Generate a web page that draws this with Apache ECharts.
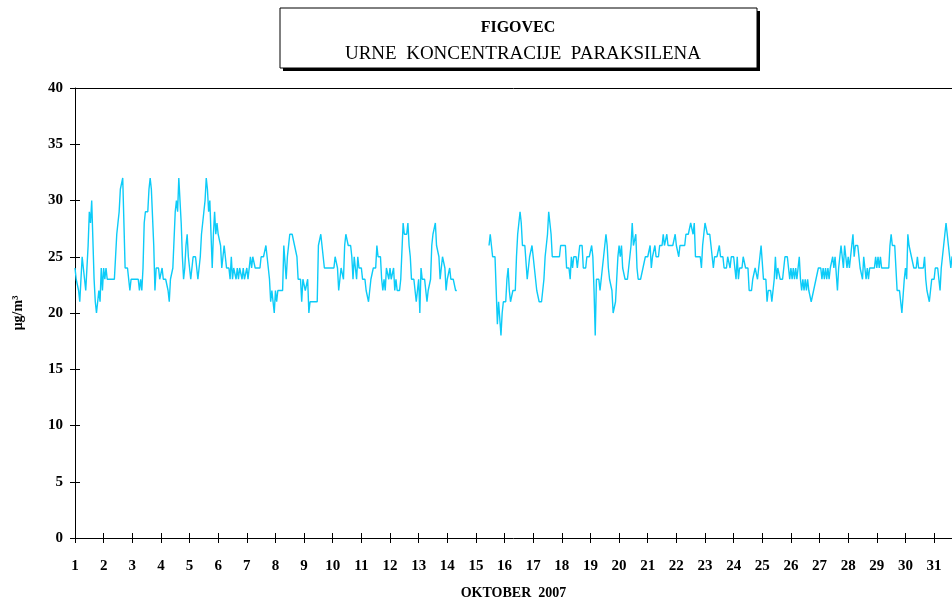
<!DOCTYPE html>
<html>
<head>
<meta charset="utf-8">
<script src="https://cdn.jsdelivr.net/npm/echarts@6/dist/echarts.min.js"></script>
<style>
  html, body { margin: 0; padding: 0; background: #fff; }
  #graph { width: 952px; height: 602px; }
</style>
</head>
<body>
<div id="graph"></div>
<script>
// hourly paraxylene, October 2007, one row per day (hours 0..23), null = no measurement
const day01 = [24,23,23,22,21,21,25,24,23,22,24,26,29,28,30,30,23,21,20,20,22,21,24,22];
const day02 = [24,23,24,23,23,23,23,23,23,23,25,27,28,29,31,31,32,28,24,24,24,24,22,23];
const day03 = [23,23,23,23,23,23,22,23,22,24,28,29,29,29,31,32,31,31,26,22,24,24,24,23];
const day04 = [23,24,23,23,23,23,22,21,23,23,24,24,29,30,29,32,32,28,25,23,24,26,27,25];
const day05 = [24,23,23,25,25,25,25,23,24,25,27,27,29,30,32,31,29,30,27,24,27,29,27,28];
const day06 = [27,27,26,24,25,26,26,24,24,24,23,25,23,24,24,23,24,23,24,24,23,24,23,23];
const day07 = [24,23,23,25,24,25,25,24,24,24,24,24,25,25,25,25,26,25,24,23,21,22,22,20];
const day08 = [22,21,22,22,22,22,22,26,26,23,25,26,27,27,27,27,26,26,25,23,23,23,21,23];
const day09 = [23,22,22,23,20,21,21,21,21,21,21,21,26,26,27,26,25,24,24,24,24,24,24,24];
const day10 = [24,24,25,25,24,22,23,24,24,23,26,27,27,26,26,26,25,23,25,24,23,25,24,24];
const day11 = [24,23,23,23,22,22,21,21,23,23,24,24,24,26,25,25,25,23,22,23,22,24,24,23];
const day12 = [24,23,23,24,22,23,22,22,22,23,23,28,27,27,27,28,26,25,23,23,23,22,21,22];
const day13 = [23,20,24,23,23,23,23,21,22,22,23,26,27,27,28,26,26,25,23,23,25,25,24,22];
const day14 = [23,23,24,23,23,23,23,22,22,null,null,null,null,null,null,null,null,null,null,null,null,null,null,null];
const day15 = [null,null,null,null,null,null,null,null,null,null,null,26,27,26,25,25,25,22,19,21,21,18,20,21];
const day16 = [21,21,23,24,22,21,21,22,22,22,25,27,28,29,28,26,26,26,26,23,23,25,25,26];
const day17 = [25,24,24,22,22,21,21,21,22,23,25,26,27,29,28,27,25,25,25,25,25,25,25,26];
const day18 = [26,26,26,26,24,24,24,23,25,24,25,25,25,24,24,26,26,26,24,24,24,25,25,25];
const day19 = [25,26,25,22,18,23,23,23,22,22,24,25,26,27,26,24,23,23,22,20,20,21,23,25];
const day20 = [26,25,26,24,24,23,23,23,24,25,26,28,26,26,27,24,23,23,23,23,24,24,25,25];
const day21 = [25,25,26,24,25,25,26,25,25,25,26,26,26,27,26,26,27,26,26,26,26,26,26,27];
const day22 = [26,26,25,26,26,26,26,26,27,27,27,27,28,28,27,28,25,25,25,25,25,24,26,27];
const day23 = [28,28,27,27,27,26,25,24,25,25,25,25,26,25,25,25,24,24,24,25,25,24,25,25];
const day24 = [25,25,23,25,23,24,24,24,25,25,24,24,24,22,22,22,23,23,24,24,23,24,25,26];
const day25 = [26,23,23,23,21,22,22,22,21,21,23,25,23,24,24,23,23,23,23,25,25,25,24,23];
const day26 = [24,23,24,23,24,23,24,25,23,22,23,22,23,22,23,22,22,21,21,22,22,23,23,24];
const day27 = [24,24,23,24,23,24,23,24,23,24,24,25,24,25,25,22,24,24,26,25,24,26,26,24];
const day28 = [25,24,25,26,27,25,26,26,26,25,24,24,23,25,25,23,24,23,24,24,24,24,24,25];
const day29 = [24,25,24,25,24,24,24,24,24,24,24,26,27,26,26,26,24,22,22,22,21,20,20,23];
const day30 = [24,23,27,26,26,25,25,24,24,24,25,24,24,24,24,24,25,23,22,22,21,22,23,23];
const day31 = [23,24,24,24,24,22,24,24,26,27,28,28,26,25,24,25,25,25,25,24,24,24,24,24];

const days = [day01,day02,day03,day04,day05,day06,day07,day08,day09,day10,
              day11,day12,day13,day14,day15,day16,day17,day18,day19,day20,
              day21,day22,day23,day24,day25,day26,day27,day28,day29,day30,day31];

const yTicks = [0, 5, 10, 15, 20, 25, 30, 35, 40];
const titleMain = 'FIGOVEC';
const titleSub = 'URNE  KONCENTRACIJE  PARAKSILENA';
const xName = 'OKTOBER  2007';
const yName = 'μg/m³';

// flatten to [hour, value] pairs
let sData = [];
days.forEach((row, d) => {
    row.forEach((v, h) => {
        sData.push([d * 24 + h, v]);
    });
});

const serif = 'Liberation Serif';
// the original page is cut at the right edge, part way into day 31
const xMax = 735;

let myChart = echarts.init(document.getElementById('graph'));

let option = {
    animation: false,
    backgroundColor: '#fff',
    grid: { left: 75, top: 88, bottom: 64, right: 0, show: false, outerBoundsMode: 'none' },
    graphic: [
        { type: 'rect', shape: { x: 283, y: 11, width: 477, height: 60 }, style: { fill: '#000' } },
        { type: 'rect', shape: { x: 280, y: 8, width: 477, height: 60 }, style: { fill: '#fff', stroke: '#000', lineWidth: 1 } },
        { type: 'text', x: 518, y: 28, style: { text: titleMain, font: 'bold 16px ' + serif, fill: '#000', align: 'center', verticalAlign: 'middle' } },
        { type: 'text', x: 523, y: 54, style: { text: titleSub, font: '19px ' + serif, fill: '#000', align: 'center', verticalAlign: 'middle' } }
    ],
    xAxis: [{
        type: 'value', min: 0, max: xMax, interval: 24,
        name: xName, nameLocation: 'middle', nameGap: 48,
        nameTextStyle: { fontFamily: serif, fontWeight: 'bold', fontSize: 14, color: '#000' },
        axisLine: { lineStyle: { color: '#000', width: 1 } },
        axisTick: { length: 5, lineStyle: { color: '#000' } },
        axisLabel: {
            margin: 21, color: '#000', fontFamily: serif, fontWeight: 'bold', fontSize: 15,
            formatter: v => (v % 24 === 0 ? String(v / 24 + 1) : '')
        },
        splitLine: { show: false }
    }, {
        type: 'value', min: 0, max: xMax, interval: 24, position: 'bottom',
        axisLine: { show: false },
        axisTick: { inside: true, length: 5, lineStyle: { color: '#000' } },
        axisLabel: { show: false },
        splitLine: { show: false }
    }, {
        type: 'value', min: 0, max: xMax, position: 'top',
        axisLine: { show: true, lineStyle: { color: '#000', width: 1 } },
        axisTick: { show: false },
        axisLabel: { show: false },
        splitLine: { show: false }
    }],
    yAxis: [{
        type: 'value', min: yTicks[0], max: yTicks[yTicks.length - 1], interval: 5,
        name: yName, nameLocation: 'middle', nameGap: 50, nameRotate: 90,
        nameTextStyle: { fontFamily: serif, fontWeight: 'bold', fontSize: 14, color: '#000' },
        axisLine: { show: true, lineStyle: { color: '#000', width: 1 } },
        axisTick: { show: true, length: 5, lineStyle: { color: '#000' } },
        axisLabel: { margin: 12, color: '#000', fontFamily: serif, fontWeight: 'bold', fontSize: 15 },
        splitLine: { show: false }
    }, {
        type: 'value', min: 0, max: 40, interval: 5, position: 'left',
        axisLine: { show: false },
        axisTick: { show: true, inside: true, length: 5, lineStyle: { color: '#000' } },
        axisLabel: { show: false },
        splitLine: { show: false }
    }],
    series: [{
        type: 'line',
        data: sData,
        showSymbol: false,
        connectNulls: false,
        lineStyle: { color: '#0CCBF8', width: 1.4 },
        itemStyle: { color: '#0CCBF8' }
    }]
};
myChart.setOption(option);
</script>
</body>
</html>
